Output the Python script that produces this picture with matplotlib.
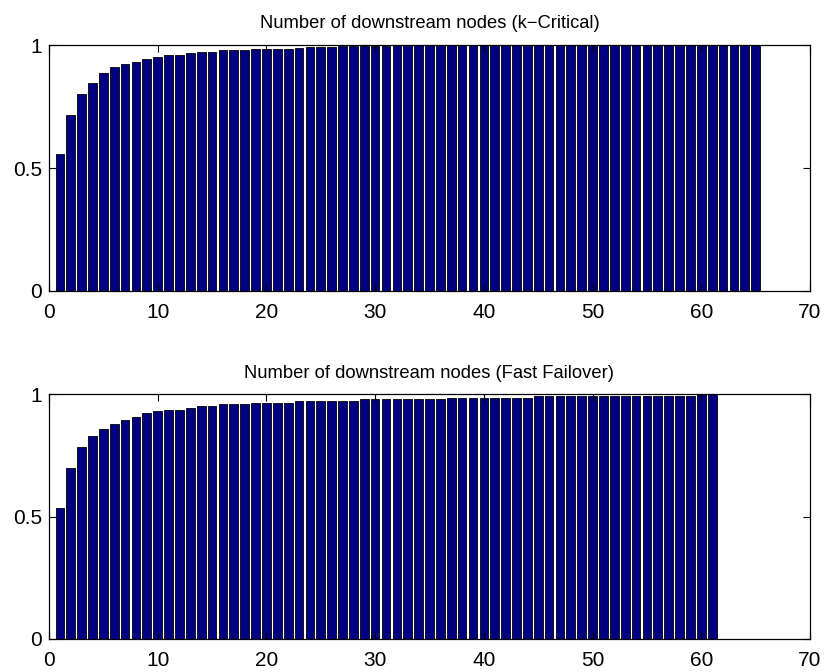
import matplotlib
matplotlib.use("Agg")
import matplotlib.pyplot as plt
import numpy as np

plt.rcParams['font.family'] = ['Liberation Sans', 'DejaVu Sans']

titles = ["Number of downstream nodes (k\u2212Critical)",
          "Number of downstream nodes (Fast Failover)"]

kcritical = [0.557, 0.715, 0.801, 0.844, 0.887, 0.909, 0.923, 0.930, 0.943, 0.951,
             0.959, 0.959, 0.966, 0.973, 0.973, 0.978, 0.978, 0.978, 0.985, 0.985,
             0.985, 0.985, 0.986, 0.993, 0.993, 0.993, 0.996, 0.996, 0.996, 0.996,
             0.996] + [1.0] * 34

fastfailover = [0.535, 0.698, 0.785, 0.829, 0.857, 0.879, 0.892, 0.907, 0.921, 0.929,
                0.936, 0.936, 0.943, 0.949, 0.949, 0.958, 0.958, 0.958, 0.964, 0.964,
                0.964, 0.964, 0.971, 0.971, 0.971, 0.971, 0.971, 0.971, 0.978, 0.978,
                0.978, 0.978, 0.978, 0.978, 0.978, 0.978, 0.985, 0.985, 0.985, 0.985,
                0.985, 0.985, 0.985, 0.985, 0.993, 0.993, 0.993, 0.993, 0.993, 0.993,
                0.993, 0.993, 0.993, 0.993, 0.993, 0.993, 0.993, 0.993, 0.993, 1.0, 1.0]

xticks = [0, 10, 20, 30, 40, 50, 60, 70]
yticks = [0, 0.5, 1]
yticklabels = ["0", "0.5", "1"]

fig = plt.figure(figsize=(8.26, 6.72), dpi=100)
W, H = 826, 672
boxes = [(49, 45, 810, 291), (49, 394, 810, 639)]
title_pads = [12, 11.5]

for (l, t, r, b), title, data, tp in zip(boxes, titles, [kcritical, fastfailover], title_pads):
    ax = fig.add_axes([l / W, 1 - b / H, (r - l) / W, (b - t) / H])
    x = np.arange(1, len(data) + 1)
    ax.bar(x, data, width=0.8, color='#000080', edgecolor='black', linewidth=0.6)
    ax.set_xlim(0, 70)
    ax.set_ylim(0, 1)
    ax.set_xticks(xticks)
    ax.set_xticklabels([str(v) for v in xticks])
    ax.set_yticks(yticks)
    ax.set_yticklabels(yticklabels)
    ax.tick_params(direction='in', top=True, right=True, labelsize=15,
                   length=5, width=0.8)
    ax.tick_params(axis='x', pad=9)
    ax.tick_params(axis='y', pad=5)
    for s in ax.spines.values():
        s.set_linewidth(0.9)
    ax.set_title(title, fontsize=13.2, pad=tp)

fig.savefig("out.png", dpi=100)
